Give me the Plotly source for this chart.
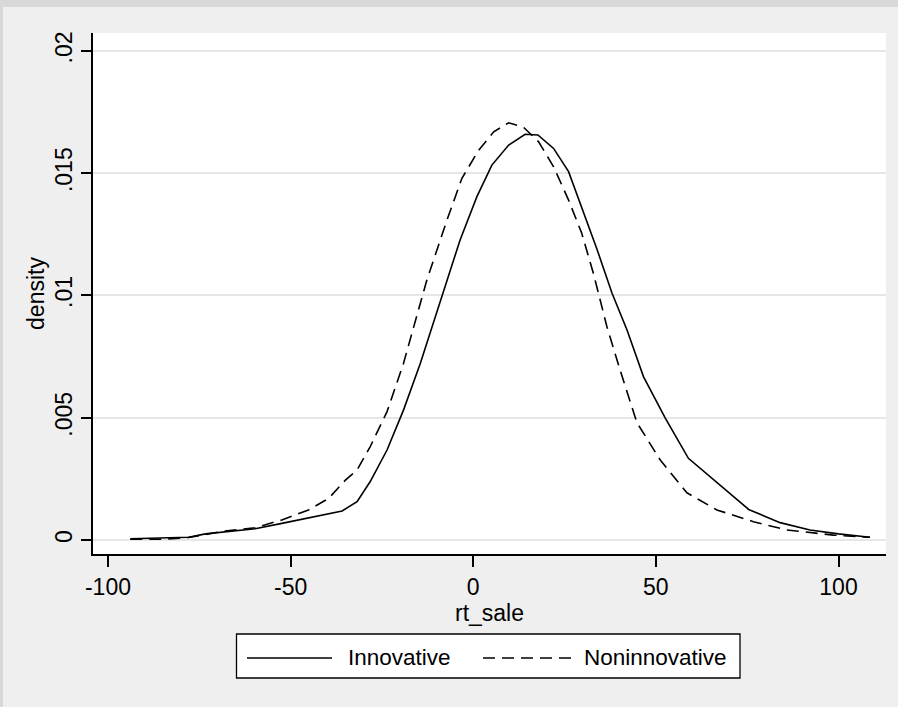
import plotly.graph_objects as go

# ---- data ----
innov_x = [-93.9, -85.0, -77.9, -73.3, -66.0, -59.7, -52.4, -44.1, -35.9, -31.8, -28.2, -23.6,
           -19.1, -14.5, -9.0, -3.6, 1.0, 5.1, 9.7, 14.2, 17.7, 22.0, 26.1, 29.7, 33.8, 38.0,
           42.1, 46.6, 52.5, 58.9, 67.6, 75.4, 84.0, 92.2, 100.0, 108.6]
innov_y = [0.00005, 0.00008, 0.00011, 0.00025, 0.00036, 0.00046, 0.00068, 0.00093, 0.00119,
           0.00157, 0.00239, 0.00368, 0.00531, 0.00722, 0.00981, 0.01227, 0.01404, 0.01533,
           0.01615, 0.01659, 0.01656, 0.01601, 0.01506, 0.01363, 0.01192, 0.01009, 0.00859,
           0.00668, 0.00500, 0.00334, 0.00225, 0.00125, 0.00071, 0.00041, 0.00025, 0.00011]

nonin_x = [-93.9, -85.2, -77.9, -68.8, -59.7, -52.4, -45.1, -39.6, -35.0, -31.8, -28.2, -23.6,
           -19.1, -12.7, -7.2, -3.1, 1.5, 5.6, 9.7, 13.8, 17.9, 22.0, 26.1, 29.7, 32.9, 36.6,
           40.2, 44.8, 51.2, 58.5, 66.7, 76.7, 85.8, 98.6, 108.6]
nonin_y = [0.00003, 0.00003, 0.00010, 0.00035, 0.00050, 0.00082, 0.00123, 0.00170, 0.00245,
           0.00286, 0.00382, 0.00525, 0.00722, 0.01063, 0.01308, 0.01479, 0.01594, 0.01669,
           0.01706, 0.01687, 0.01628, 0.01526, 0.01390, 0.01254, 0.01090, 0.00872, 0.00695,
           0.00480, 0.00327, 0.00193, 0.00123, 0.00075, 0.00041, 0.00020, 0.00011]

x_ticks = [-100, -50, 0, 50, 100]
x_ticktext = ["-100", "-50", "0", "50", "100"]
y_ticks = [0, 0.005, 0.01, 0.015, 0.02]
y_ticktext = ["0", ".005", ".01", ".015", ".02"]
series_names = ["Innovative", "Noninnovative"]

# ---- layout geometry (pixels) ----
W, H = 898, 707
ML, MR, MT, MB = 93, 12, 33, 153
PW, PH = W - ML - MR, H - MT - MB


def px(x):
    return (x - ML) / PW


def py(y):
    return (H - MB - y) / PH


FONT = "Liberation Sans, Arial, Helvetica, sans-serif"
DASH = "12px,7px"

fig = go.Figure()
fig.add_trace(go.Scatter(x=innov_x, y=innov_y, mode="lines", name=series_names[0],
                         line=dict(color="black", width=1.6), showlegend=False))
fig.add_trace(go.Scatter(x=nonin_x, y=nonin_y, mode="lines", name=series_names[1],
                         line=dict(color="black", width=1.6, dash=DASH), showlegend=False))

shapes = [
    # top and left darker strips of the outer frame
    dict(type="rect", xref="paper", yref="paper", x0=px(0), x1=px(W), y0=py(7), y1=py(0),
         fillcolor="#d8d8d8", line=dict(width=0), layer="below"),
    dict(type="rect", xref="paper", yref="paper", x0=px(0), x1=px(3), y0=py(H), y1=py(0),
         fillcolor="#d8d8d8", line=dict(width=0), layer="below"),
    # legend box
    dict(type="rect", xref="paper", yref="paper", x0=px(236.5), x1=px(740), y0=py(678), y1=py(634),
         fillcolor="white", line=dict(color="black", width=1.3)),
    dict(type="line", xref="paper", yref="paper", x0=px(247), x1=px(332), y0=py(658), y1=py(658),
         line=dict(color="black", width=1.6)),
    dict(type="line", xref="paper", yref="paper", x0=px(483), x1=px(571), y0=py(658), y1=py(658),
         line=dict(color="black", width=1.6, dash=DASH)),
]
annotations = [
    dict(text=series_names[0], xref="paper", yref="paper", x=px(346), y=py(657),
         xanchor="left", yanchor="middle", showarrow=False, font=dict(size=22.5, color="black", family=FONT)),
    dict(text=series_names[1], xref="paper", yref="paper", x=px(582), y=py(657),
         xanchor="left", yanchor="middle", showarrow=False, font=dict(size=22.5, color="black", family=FONT)),
]

fig.update_layout(
    width=W, height=H,
    margin=dict(l=ML, r=MR, t=MT, b=MB, pad=0),
    paper_bgcolor="#efefef",
    plot_bgcolor="white",
    font=dict(family=FONT, size=23, color="black"),
    shapes=shapes,
    annotations=annotations,
    showlegend=False,
    xaxis=dict(
        range=[-104.1, 113.0], tickvals=x_ticks, ticktext=x_ticktext,
        showgrid=False, zeroline=False, showline=True, linecolor="black", linewidth=2,
        ticks="outside", ticklen=11, tickwidth=1.5, tickcolor="black",
        title=dict(text="rt_sale", standoff=0, font=dict(size=23)),
        tickfont=dict(size=23),
    ),
    yaxis=dict(
        range=[-0.000572, 0.02073], tickvals=y_ticks, ticktext=y_ticktext,
        tickangle=-90,
        showgrid=True, gridcolor="#e6e6e6", gridwidth=1.5, zeroline=False,
        showline=True, linecolor="black", linewidth=1.5,
        ticks="outside", ticklen=10, tickwidth=1.5, tickcolor="black",
        title=dict(text="density", standoff=0, font=dict(size=23)),
        tickfont=dict(size=23),
    ),
)

fig.write_html("out.html")
